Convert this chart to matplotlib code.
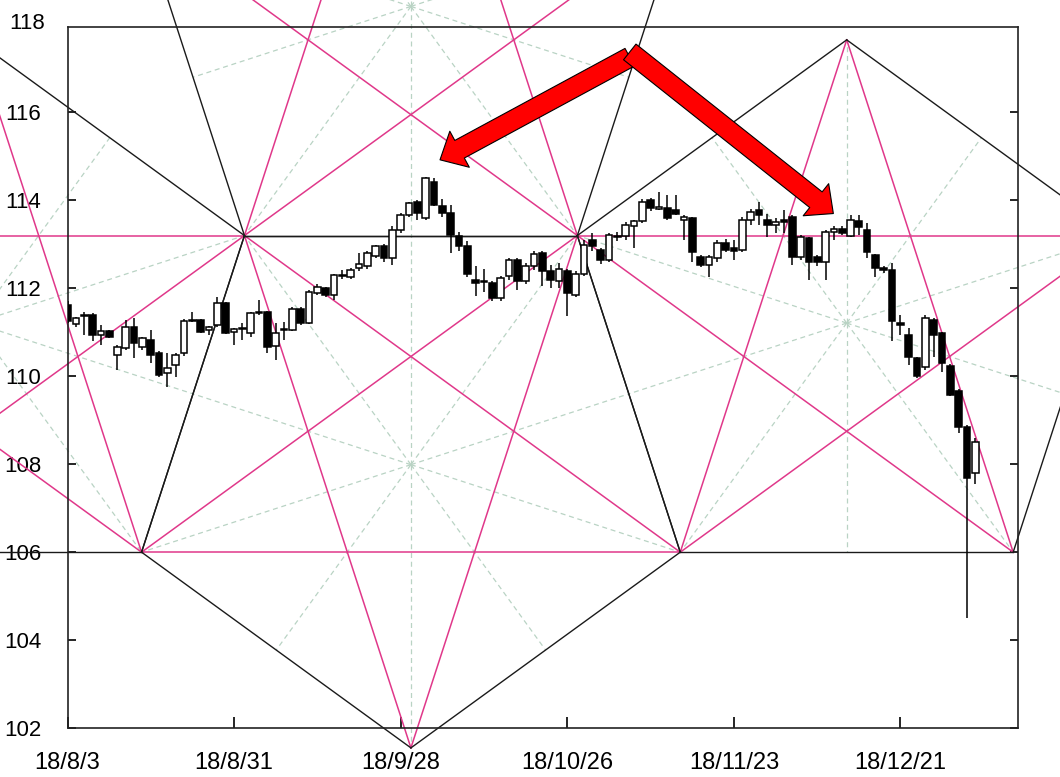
import matplotlib
matplotlib.use("Agg")
import matplotlib.pyplot as plt
import numpy as np

plt.rcParams['font.family'] = ['Liberation Sans', 'DejaVu Sans']

# USD/JPY daily candles, one entry per trading day starting 18/8/3
opens = [111.62, 111.17, 111.36, 111.39, 110.93, 111.02, 110.48, 110.63, 111.12, 110.67,
         110.82, 110.53, 110.06, 110.25, 110.52, 111.28, 111.27, 111.05, 111.16, 111.65,
         110.99, 111.06, 110.97, 111.42, 111.46, 110.68, 111.04, 111.05, 111.53, 111.21,
         111.88, 111.99, 111.84, 112.30, 112.26, 112.46, 112.49, 112.72, 112.95, 112.68,
         113.32, 113.66, 113.96, 113.58, 114.41, 113.85, 113.70, 113.17, 112.95, 112.17,
         112.13, 112.11, 111.78, 112.27, 112.64, 112.15, 112.49, 112.80, 112.38, 112.15,
         112.38, 111.85, 112.31, 113.10, 112.87, 112.64, 113.15, 113.17, 113.40, 113.51,
         114.00, 113.80, 113.81, 113.77, 113.55, 113.58, 112.71, 112.52, 112.67, 113.01,
         112.90, 112.86, 113.54, 113.77, 113.55, 113.43, 113.54, 113.62, 112.71, 113.13,
         112.71, 112.60, 113.28, 113.35, 113.19, 113.52, 113.32, 112.75, 112.46, 112.41,
         111.21, 110.93, 110.40, 110.21, 111.27, 110.97, 110.23, 109.65, 108.85, 107.79]
highs = [111.70, 111.35, 111.46, 111.42, 111.16, 111.05, 110.71, 111.27, 111.31, 110.89,
         111.05, 110.56, 110.52, 110.52, 111.30, 111.46, 111.30, 111.14, 111.80, 111.68,
         111.08, 111.20, 111.46, 111.73, 111.48, 111.20, 111.23, 111.56, 111.56, 111.95,
         112.08, 112.03, 112.32, 112.40, 112.45, 112.80, 112.83, 112.98, 113.00, 113.40,
         113.70, 113.96, 114.00, 114.52, 114.49, 114.03, 113.88, 113.28, 113.06, 112.49,
         112.42, 112.15, 112.27, 112.68, 112.68, 112.57, 112.83, 112.83, 112.53, 112.57,
         112.42, 112.38, 113.10, 113.25, 112.90, 113.25, 113.28, 113.50, 113.55, 114.03,
         114.05, 114.19, 114.11, 114.10, 113.66, 113.60, 112.75, 112.75, 113.09, 113.12,
         113.09, 113.60, 113.80, 113.96, 113.69, 113.58, 113.77, 113.66, 113.20, 113.16,
         112.75, 113.32, 113.40, 113.40, 113.66, 113.65, 113.47, 112.78, 112.50, 112.56,
         111.39, 111.08, 110.44, 111.39, 111.31, 111.00, 110.28, 109.70, 108.88, 108.60]
lows = [111.20, 111.12, 110.93, 110.80, 110.71, 110.87, 110.14, 110.59, 110.41, 110.59,
        110.29, 109.98, 109.76, 109.98, 110.45, 111.22, 110.98, 110.93, 111.12, 110.95,
        110.70, 110.82, 110.89, 111.39, 110.52, 110.37, 110.82, 111.02, 111.15, 111.18,
        111.85, 111.80, 111.73, 112.20, 112.20, 112.38, 112.42, 112.68, 112.60, 112.53,
        113.25, 113.62, 113.55, 113.55, 113.85, 113.60, 112.80, 112.83, 112.25, 111.81,
        111.90, 111.70, 111.70, 112.19, 111.95, 112.08, 112.40, 112.04, 112.00, 112.00,
        111.37, 111.80, 112.27, 112.85, 112.55, 112.60, 113.06, 113.10, 112.91, 113.47,
        113.75, 113.77, 113.55, 113.65, 113.09, 112.60, 112.48, 112.26, 112.60, 112.82,
        112.64, 112.82, 113.43, 113.43, 113.16, 113.24, 113.24, 112.52, 112.64, 112.18,
        112.50, 112.18, 113.10, 113.20, 113.16, 113.20, 112.67, 112.26, 112.33, 110.79,
        110.93, 110.25, 109.95, 110.13, 110.44, 110.10, 109.55, 108.70, 104.50, 107.55]
closes = [111.25, 111.31, 111.38, 110.93, 111.02, 110.89, 110.67, 111.12, 110.74, 110.86,
          110.48, 110.02, 110.18, 110.48, 111.26, 111.24, 111.01, 111.12, 111.65, 110.97,
          111.06, 111.08, 111.42, 111.46, 110.67, 110.97, 111.06, 111.53, 111.20, 111.91,
          112.03, 111.84, 112.29, 112.27, 112.41, 112.55, 112.80, 112.95, 112.68, 113.32,
          113.66, 113.92, 113.70, 114.49, 113.88, 113.70, 113.21, 112.95, 112.31, 112.11,
          112.15, 111.77, 112.23, 112.64, 112.15, 112.49, 112.76, 112.38, 112.19, 112.42,
          111.89, 112.31, 112.98, 112.95, 112.64, 113.21, 113.19, 113.43, 113.51, 113.96,
          113.81, 113.83, 113.58, 113.69, 113.62, 112.82, 112.52, 112.71, 113.01, 112.86,
          112.85, 113.55, 113.73, 113.66, 113.43, 113.50, 113.50, 112.71, 113.15, 112.60,
          112.60, 113.28, 113.35, 113.24, 113.54, 113.38, 112.82, 112.46, 112.41, 111.24,
          111.16, 110.44, 109.99, 111.31, 110.93, 110.29, 109.57, 108.85, 107.68, 108.51]

tick_days = [0, 20, 40, 60, 80, 100]
tick_labels = ["18/8/3", "18/8/31", "18/9/28", "18/10/26", "18/11/23", "18/12/21"]
price_ticks = [102, 104, 106, 108, 110, 112, 114, 116]

# top edge of the central pentagon (day index, price)
edge_days = [21.24, 61.21]
edge_price = 113.19

# red arrows: tail -> tip (day index, price)
arrow_tails = [(67.5, 117.24), (67.5, 117.36)]
arrow_tips = [(44.72, 114.91), (91.94, 113.69)]

PINK = '#e0388a'
DASH = '#b9d3c4'

fig = plt.figure(figsize=(10.6, 7.77), dpi=100)
ax = fig.add_axes([0.0637, 0.0627, 0.8970, 0.9022])
ax.set_xlim(0, 114.15)
ax.set_ylim(102, 117.92)


def pentagon(start, s, turn):
    pts = [np.array(start, float)]
    ang = 0.0
    for _ in range(4):
        pts.append(pts[-1] + s * np.array([np.cos(np.radians(ang)), np.sin(np.radians(ang))]))
        ang += turn
    return np.array(pts)


# build the pentagons in screen space so they are regular on the picture
a_d, b_d = ax.transData.transform([[edge_days[0], edge_price], [edge_days[1], edge_price]])
s = b_d[0] - a_d[0]
p1 = pentagon(a_d, s, -72)            # A, B, D, F, C  (apex down)
p2 = pentagon(p1[2], s, 72)           # D, E, R, G, B
p3 = pentagon(a_d, s, 72)             # A, B, D', F', C' (mirror above)
p0 = pentagon(p1[4] - [s, 0], s, 72)  # L1, C, A, T0, L2

inv = ax.transData.inverted()


def seg(p, q, **kw):
    xy = inv.transform([p, q])
    ax.plot(xy[:, 0], xy[:, 1], clip_on=False, **kw)


for pent in [p0, p1, p2, p3]:
    c = pent.mean(axis=0)
    for i in range(5):
        v, w = pent[i], pent[(i + 1) % 5]
        seg(c, v, color=DASH, lw=0.9, ls=(0, (4, 3)), zorder=1)
        seg(c, (v + w) / 2, color=DASH, lw=0.9, ls=(0, (4, 3)), zorder=1)
for pent in [p0, p1, p2, p3]:
    for i in range(5):
        seg(pent[i], pent[(i + 2) % 5], color=PINK, lw=1.1, zorder=2)
for pent in [p0, p1, p2, p3]:
    for i in range(5):
        seg(pent[i], pent[(i + 1) % 5], color='#1a1a1a', lw=1.0, zorder=2.2)

# candles
days = np.arange(len(opens))
o = np.array(opens)
c = np.array(closes)
up = c >= o
ax.vlines(days, lows, highs, color='black', lw=1.1, zorder=3)
body = np.maximum(np.abs(c - o), 0.02)
ax.bar(days, body, bottom=np.minimum(o, c), width=0.8,
       color=np.where(up, 'white', 'black'), edgecolor='black', lw=1.1, zorder=4)

# arrows
for tail, tip in zip(arrow_tails, arrow_tips):
    ax.annotate('', xy=tip, xytext=tail, annotation_clip=False, zorder=6,
                arrowprops=dict(arrowstyle='simple,head_length=1.6,head_width=2.95,tail_width=1.44',
                                mutation_scale=10, fc='#ff0000', ec='black', lw=0.8,
                                shrinkA=0, shrinkB=0))

ax.set_xticks(tick_days, tick_labels)
ax.set_yticks(price_ticks)
ax.tick_params(axis='x', direction='in', length=8, width=1.2, pad=17, labelsize=17, top=False)
ax.tick_params(axis='y', direction='in', length=6, width=1.2, pad=19, labelsize=16, right=True)
ax.text(-0.0235, 118, '118', transform=ax.get_yaxis_transform(), ha='right', va='center',
        fontsize=16, clip_on=False)
for sp in ax.spines.values():
    sp.set_linewidth(1.2)
    sp.set_color('#222222')

fig.savefig('out.png', dpi=100)
